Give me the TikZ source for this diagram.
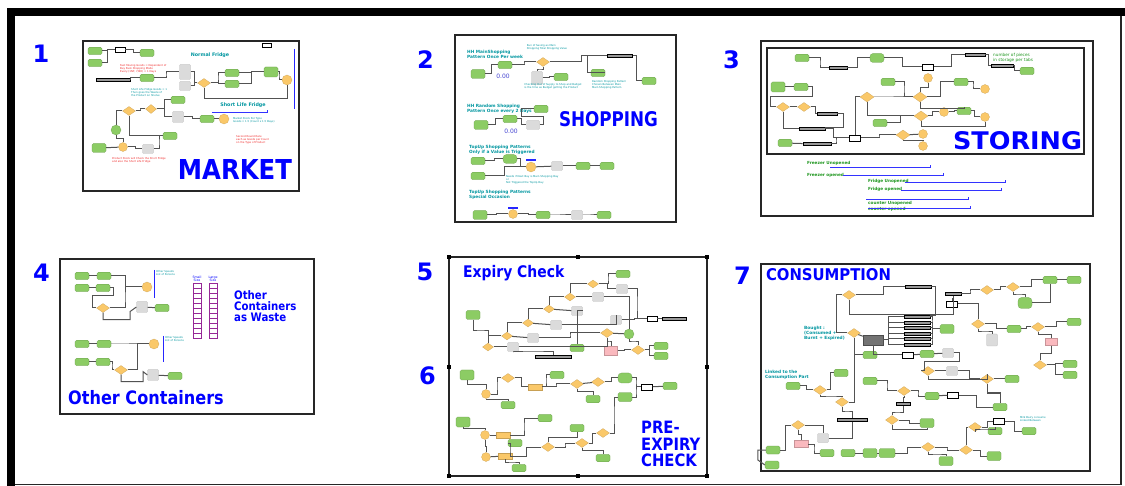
\documentclass[tikz,border=0pt]{standalone}
\usepackage{fontspec}
\setmainfont{DejaVu Sans}
\newfontfamily\tah{DejaVu Sans}[FakeStretch=0.87]
\usetikzlibrary{shapes.geometric,calc,arrows.meta}
\definecolor{grn}{RGB}{140,204,100}
\definecolor{org}{RGB}{250,200,105}
\definecolor{tl}{RGB}{0,150,160}
\definecolor{bblue}{RGB}{0,0,255}
\definecolor{pnk}{RGB}{250,185,190}
\definecolor{dgr}{RGB}{30,150,30}
\definecolor{pur}{RGB}{150,40,150}
\definecolor{rd}{RGB}{240,40,40}
\definecolor{nb}{RGB}{70,70,210}
\begin{document}
\begin{tikzpicture}[x=1pt,y=-1pt,
 ln/.style={draw=black!68, line width=1pt},
 gn/.style={rectangle, rounded corners=1.5pt, fill=grn, draw=grn!75!black, line width=0.2pt, minimum width=14pt, minimum height=7.5pt, inner sep=0pt},
 od/.style={diamond, fill=org, draw=org!80!black, line width=0.2pt, minimum width=13pt, minimum height=9pt, inner sep=0pt},
 oc/.style={circle, fill=org, draw=org!80!black, line width=0.2pt, minimum size=9pt, inner sep=0pt},
 ob/.style={rectangle, fill=org, draw=org!80!black, line width=0.2pt, minimum width=14pt, minimum height=6pt, inner sep=0pt},
 gy/.style={rectangle, rounded corners=1pt, fill=black!14, draw=black!28, line width=0.2pt, minimum width=11pt, minimum height=9pt, inner sep=0pt},
 pk/.style={rectangle, fill=pnk, draw=pnk!80!black, line width=0.2pt, minimum width=12pt, minimum height=7pt, inner sep=0pt},
 bb/.style={rectangle, fill=black!40, draw=black, line width=0.8pt, minimum width=22pt, minimum height=3pt, inner sep=0pt},
 wb/.style={rectangle, fill=white, draw=black, line width=0.5pt, minimum width=10pt, minimum height=5pt, inner sep=0pt},
 frm/.style={draw=black!85, line width=1.4pt},
 num/.style={text=bblue, font=\fontsize{24}{24}\selectfont\bfseries, inner sep=0pt},
 bigt/.style={text=bblue, inner sep=0pt},
 tlt/.style={text=tl, font=\fontsize{4.3}{4.8}\selectfont\bfseries, inner sep=0pt, align=left},
 tiny/.style={font=\fontsize{2.6}{3}\selectfont, inner sep=0pt, align=left},
 gl/.style={text=dgr, font=\fontsize{4.2}{4.6}\selectfont\bfseries, inner sep=0pt, anchor=west},
 bl/.style={draw=bblue!85, line width=0.8pt},
 blt/.style={draw=bblue!80, line width=0.7pt, -{Bar[width=3pt,line width=0.6pt]}},
 hvh/.style={to path={-| ($(\tikztostart)!.5!(\tikztotarget)$) |- (\tikztotarget)}},
 vhv/.style={to path={|- ($(\tikztostart)!.5!(\tikztotarget)$) -| (\tikztotarget)}}
]
\useasboundingbox (0,0) rectangle (1125,486);
\fill[white] (0,0) rectangle (1125,486);
% outer frame
\fill[black] (7,8) rectangle (1125,16);
\fill[black] (7,8) rectangle (15,486);
\draw[black!85, line width=1.3pt] (1121,16) -- (1121,484.5) -- (15,484.5);

% numbers
\node[num] (n1) at (41,54) {1};
\node[num] (n2) at (425.5,59.5) {2};
\node[num] (n3) at (731.5,59.5) {3};
\node[num] (n4) at (41.5,272.5) {4};
\node[num] (n5) at (425,272) {5};
\node[num] (n6) at (427.5,375.5) {6};
\node[num] (n7) at (742.5,276) {7};

%================ PANEL 1 : MARKET
\draw[frm] (83,41) rectangle (299,191);
\node[gn] (a1) at (95,51) {};
\node[gn] (a2) at (95,63) {};
\node[wb] (a3) at (120,50) {};
\node[gn] (a4) at (147,53) {};
\node[wb, minimum width=9pt, minimum height=4pt, line width=0.8pt] (a5) at (267,45) {};
\node[bb, minimum width=34pt] (a6) at (113,80) {};
\node[gn] (a7) at (147,78) {};
\node[gy, minimum height=15pt] (a8) at (185,72) {};
\node[gy] (a9) at (185,86) {};
\node[od] (a10) at (204,83) {};
\node[gn] (a11) at (232,73) {};
\node[gn] (a12) at (232,84) {};
\node[gn, minimum height=10pt] (a13) at (271,72) {};
\node[oc, minimum size=10pt] (a14) at (287,80) {};
\draw[ln] (a1) to[hvh] (a3);
\draw[ln] (a2) to[hvh] (a3);
\draw[ln] (a3) to[hvh] (a4);
\draw[ln] (a6) to[hvh] (a7);
\draw[ln] (a7) to[hvh] (a8);
\draw[ln] (a8) to[hvh] (a10);
\draw[ln] (a9) to[hvh] (a10);
\draw[ln] (a10) to[hvh] (a11);
\draw[ln] (a10) to[hvh] (a12);
\draw[ln] (a11) to[hvh] (a13);
\draw[ln] (a12) to[hvh] (a13);
\draw[ln] (a13) to[hvh] (a14);
\draw[ln] (a10.south) -- ++(0,11) -| (a14.south);
\node[gn] (a15) at (178,100) {};
\node[od] (a16) at (129,111) {};
\node[od, minimum width=11pt] (a17) at (151,109) {};
\node[gy, minimum height=11pt] (a18) at (178,117) {};
\node[gn] (a19) at (207,119) {};
\node[oc, minimum size=10pt] (a20) at (224,119) {};
\node[gn, circle, minimum size=10pt] (a21) at (116,130) {};
\node[gn] (a22) at (170,136) {};
\node[gn, minimum height=9pt] (a23) at (99,148) {};
\node[oc] (a24) at (123,147) {};
\node[gy] (a25) at (148,149) {};
\draw[ln] (a16) to[hvh] (a17);
\draw[ln] (a17) to[hvh] (a15);
\draw[ln] (a17) to[hvh] (a18);
\draw[ln] (a18) to[hvh] (a19);
\draw[ln] (a19) -- (a20);
\draw[ln] (a16.west) -| (a21.north);
\draw[ln] (a16.south) |- (a22.west);
\draw[ln] (a21) to[vhv] (a24);
\draw[ln] (a23) -- (a24);
\draw[ln] (a24) to[hvh] (a25);
\draw[ln] (a25) to[hvh] (a22);
\node[tlt, anchor=center, font=\fontsize{4.8}{5}\selectfont\bfseries] (t1) at (210,55) {Normal Fridge};
\node[tlt, anchor=center, font=\fontsize{4.8}{5}\selectfont\bfseries] (t2) at (243,105) {Short Life Fridge};
\draw[blt] (212,112) -- (268,112);
\draw[bl] (294,49) -- (294,109);
\node[tiny, text=rd, anchor=north west] (r1) at (120,64) {Fast Moving Goods = Dependent of\\Buy Pack Shopping Mode\\Every (1NF, 7/8H) = 1 Days};
\node[tiny, text=tl, anchor=north west] (r2) at (131,88) {Short Life Fridge Goods = 1\\Then goes the Waste of\\the Product on Shelve};
\node[tiny, text=tl, anchor=west] (r3) at (233,120) {Market Stock Per Type\\Goods = 1.5 (Count x 1.5 Days)};
\node[tiny, text=rd, anchor=west] (r4) at (236,140) {Second Round Rate\\each as Goods per Count\\on the Type of Product};
\node[tiny, text=rd, anchor=north west] (r5) at (112,157) {Product Stock will Check the Short Fridge\\and also the Short Life Fridge};
\node[bigt] (mk) at (235,170) {\resizebox{114pt}{20pt}{\bfseries MARKET}};

%================ PANEL 2 : SHOPPING
\draw[frm] (455,35) rectangle (676,222);
\node[tlt, anchor=west] (s1) at (467,54.5) {HH MainShopping\\Pattern Once Per week};
\node[gn, minimum height=9pt] (b1) at (478,74) {};
\node[gn] (b2) at (505,65) {};
\node[text=nb, font=\fontsize{6}{6}\selectfont, inner sep=0pt] (z1) at (503,76) {0.00};
\node[od] (b3) at (543,62) {};
\node[gy, minimum height=13pt] (b4) at (537,78) {};
\node[gn] (b5) at (561,77) {};
\node[bb, minimum width=25pt] (b6) at (620,56) {};
\node[gn] (b7) at (598,73) {};
\node[gn] (b8) at (649,81) {};
\draw[ln] (b1) to[hvh] (b2);
\draw[ln] (b2) to[hvh] (b3);
\draw[ln] (b3) to[hvh] (b6);
\draw[ln] (b6.east) -- ++(4,0) |- (b8.west);
\draw[ln] (b3) to[vhv] (b4);
\draw[ln] (b4) to[hvh] (b5);
\draw[ln] (b6.west) -| ++(-20,6) |- (b7.east);
\node[tiny, text=tl, anchor=center] (s2) at (547,47) {Run of Saving as Main\\Shopping Total Shopping Value};
\node[tiny, text=tl, anchor=center] (s3) at (553,86) {Checking Out of Supply to Shop and Budget\\is the time as Budget getting the Product};
\node[tiny, text=tl, anchor=north west] (s4) at (592,80) {Random Shopping Pattern\\Chosen Between Main\\Main Shopping Pattern};
\node[tlt, anchor=west] (s5) at (467,109) {HH Random Shopping\\Pattern Once every 2 Days};
\node[gn, minimum height=9pt] (b9) at (481,125) {};
\node[gn] (b10) at (510,119) {};
\node[gy, minimum width=13pt] (b11) at (533,125) {};
\node[gn] (b12) at (541,109) {};
\node[text=nb, font=\fontsize{6}{6}\selectfont, inner sep=0pt] (z2) at (511,131) {0.00};
\draw[ln] (b9) to[hvh] (b10);
\draw[ln] (b10) to[hvh] (b11);
\draw[ln] (b11.east) -- ++(4,0) |- ++(-22,-8) |- (b12.west);
\node[bigt] (sh) at (608.5,119.5) {\resizebox{99pt}{15pt}{\bfseries SHOPPING}};
\node[tlt, anchor=west] (s6) at (469,149.5) {TopUp Shopping Patterns\\Only if a Value is Triggered};
\node[gn] (b13) at (478,161) {};
\node[gn, rounded corners=3.5pt, minimum height=9pt] (b14) at (510,159) {};
\node[oc, minimum size=10pt] (b15) at (531,167) {};
\draw[bl, line width=1.2pt] (526,160) -- (536,160);
\node[gn] (b16) at (478,176) {};
\node[gy] (b17) at (557,166) {};
\node[gn] (b18) at (583,166) {};
\node[gn] (b19) at (607,166) {};
\draw[ln] (b13) to[hvh] (b14);
\draw[ln] (b14) to[hvh] (b15);
\draw[ln] (b16) to[hvh] (b15);
\draw[ln] (b15) -- (b17);
\draw[ln] (b17) -- (b18);
\draw[ln] (b18) -- (b19);
\node[tiny, text=tl, anchor=north west] (s7) at (506,175) {Needs if Next Buy is Main Shopping Day\\or\\Not Triggered the TopUp Day};
\node[tlt, anchor=west] (s8) at (469,194.5) {TopUp Shopping Patterns\\Special Occasion};
\node[gn, minimum height=9pt] (b20) at (480,215) {};
\node[oc, minimum size=9pt] (b21) at (513,214) {};
\draw[bl, line width=1.2pt] (508,208) -- (518,208);
\node[gn] (b22) at (543,215) {};
\node[gy] (b23) at (577,215) {};
\node[gn] (b24) at (604,215) {};
\draw[ln] (b20) to[hvh] (b21);
\draw[ln] (b21) to[hvh] (b22);
\draw[ln] (b22) to[hvh] (b23);
\draw[ln] (b23) to[hvh] (b24);

%================ PANEL 3 : STORING
\draw[frm] (761,41) rectangle (1093,216);
\draw[frm] (767,48) rectangle (1084,154);
\node[gn] (c1) at (802,58) {};
\node[bb, minimum width=18pt] (c2) at (838,68) {};
\node[gn, rounded corners=3pt, minimum height=9pt] (c3) at (877,58) {};
\node[wb, minimum width=11pt, minimum height=6pt] (c4) at (928,67) {};
\node[bb, minimum width=20pt] (c5) at (975,55) {};
\node[bb, minimum width=22pt] (c6) at (1002,66) {};
\node[gn] (c7) at (1027,71) {};
\node[text=dgr, font=\fontsize{4.2}{4.6}\selectfont, inner sep=0pt, anchor=west, align=left] (c0) at (993,58) {number of pieces\\in storage per tabs};
\node[gn, minimum height=10pt] (c8) at (778,87) {};
\node[gn] (c9) at (801,87) {};
\node[od] (c10) at (783,107) {};
\node[od] (c11) at (804,107) {};
\node[bb, minimum width=20pt] (c12) at (827,114) {};
\node[bb, minimum width=26pt] (c13) at (812,129) {};
\node[gn] (c14) at (785,143) {};
\node[bb, minimum width=28pt] (c15) at (817,144) {};
\node[wb, minimum width=11pt, minimum height=6pt] (c16) at (855,138) {};
\node[od, minimum width=14pt, minimum height=10pt] (c17) at (867,97) {};
\node[gn] (c18) at (888,82) {};
\node[gn] (c19) at (880,123) {};
\node[oc] (c20) at (928,78) {};
\node[od, minimum width=14pt, minimum height=10pt] (c21) at (920,97) {};
\node[od, minimum width=14pt, minimum height=10pt] (c22) at (921,116) {};
\node[od, minimum width=14pt, minimum height=10pt] (c23) at (903,135) {};
\node[oc] (c24) at (923,134) {};
\node[oc] (c25) at (923,146) {};
\node[oc] (c26) at (944,112) {};
\node[gn] (c27) at (961,82) {};
\node[gn] (c28) at (964,111) {};
\node[oc] (c29) at (985,89) {};
\node[oc] (c30) at (985,117) {};
\draw[ln] (c1) to[hvh] (c2);
\draw[ln] (c2) to[hvh] (c3);
\draw[ln] (c3) to[hvh] (c4);
\draw[ln] (c4) to[hvh] (c5);
\draw[ln] (c5) to[hvh] (c6);
\draw[ln] (c6) to[hvh] (c7);
\draw[ln] (c8) -- (c9);
\draw[ln] (c9.east) -- ++(4,0) |- (770,97) |- (c10.west);
\draw[ln] (c10) -- (c11);
\draw[ln] (c11) to[hvh] (c12);
\draw[ln] (c12.east) -- ++(6,0) |- (c13.north east);
\draw[ln] (c10.south) |- (c13.west);
\draw[ln] (c13) to[hvh] (c16);
\draw[ln] (c14) -- (c15);
\draw[ln] (c15) to[hvh] (c16);
\draw[ln] (c16) to[hvh] (c23);
\draw[ln] (c17.west) -| (c16.north);
\draw[ln] (c17) to[hvh] (c21);
\draw[ln] (c18) to[hvh] (c21);
\draw[ln] (c17.south) |- (c22.west);
\draw[ln] (c19) to[hvh] (c22);
\draw[ln] (c21) to[vhv] (c20);
\draw[ln] (c21) to[hvh] (c27);
\draw[ln] (c22) to[hvh] (c26);
\draw[ln] (c26) to[hvh] (c28);
\draw[ln] (c27) to[hvh] (c29);
\draw[ln] (c28) to[hvh] (c30);
\draw[ln] (c21.south) -- ++(0,6) -| (c28.north);
\draw[ln] (c22.south) -- ++(0,5) -| (c30.south);
\draw[ln] (c23) -- (c24);
\draw[ln] (c23) to[vhv] (c25);
\node[bigt] (st) at (1017.5,141) {\resizebox{129pt}{18pt}{\bfseries STORING}};
\node[gl] (l1) at (807,163) {Freezer Unopened};
\draw[blt] (830,167) -- (931,167);
\node[gl] (l2) at (807,175) {Freezer opened};
\draw[blt] (843,175) -- (944,175);
\node[gl] (l3) at (868,181) {Fridge Unopened};
\draw[blt] (905,182) -- (1006,182);
\node[gl] (l4) at (868,189) {Fridge opened};
\draw[blt] (901,190) -- (1002,190);
\node[gl] (l5) at (868,203) {counter Unopened};
\draw[blt] (866,199) -- (969,199);
\node[gl] (l6) at (868,209) {counter opened};
\draw[blt] (868,208) -- (971,208);

%================ PANEL 4 : OTHER CONTAINERS
\draw[frm] (60,259) rectangle (314,414);
\node[gn] (d1) at (82,276) {};
\node[gn] (d2) at (104,276) {};
\node[gn] (d3) at (82,288) {};
\node[gn] (d4) at (103,288) {};
\node[oc, minimum size=10pt] (d5) at (147,287) {};
\node[od] (d6) at (103,308) {};
\node[gy, minimum height=11pt] (d7) at (142,307) {};
\node[gn] (d8) at (162,308) {};
\draw[ln] (d1) -- (d2);
\draw[ln] (d2) to[hvh] (d5);
\draw[ln] (d3) -- (d4);
\draw[ln] (d4.east) -- ++(3,0) -- ++(0,8) -| ($(d6.west)+(-4,0)$) -- (d6.west);
\draw[ln] (d6) to[hvh] (d5);
\draw[ln] (d6.south) -- ++(0,7) -| ++(27,-8) -- (d7.west);
\draw[ln] (d7) -- (d8);
\draw[bl] (154,270) -- (154,298);
\node[tiny, text=tl, anchor=west] (d0) at (156,273) {Other Speeds\\List of Persons};
\node[gn] (d9) at (82,344) {};
\node[gn] (d10) at (104,344) {};
\node[oc, minimum size=10pt] (d11) at (154,344) {};
\node[gn] (d12) at (82,362) {};
\node[gn] (d13) at (103,362) {};
\node[od] (d14) at (121,370) {};
\node[gy, minimum height=11pt] (d15) at (153,375) {};
\node[gn] (d16) at (175,376) {};
\draw[ln] (d9) -- (d10);
\draw[ln] (d10) to[hvh] (d11);
\draw[ln] (d12) -- (d13);
\draw[ln] (d13) to[hvh] (d14);
\draw[ln] (d14) to[hvh] (d11);
\draw[ln] (d14.south) -- ++(0,7) -| ++(22,-10) -- (d15.west);
\draw[ln] (d15) -- (d16);
\draw[bl] (163,336) -- (163,362);
\node[tiny, text=tl, anchor=west] (d00) at (165,339) {Other Speeds\\List of Persons};
\node[text=bblue, font=\fontsize{3.2}{3.5}\selectfont, inner sep=0pt, align=center] (ss) at (197,279) {Small\\Size};
\node[text=bblue, font=\fontsize{3.2}{3.5}\selectfont, inner sep=0pt, align=center] (ls) at (213,279) {Large\\Size};
\foreach \k in {0,...,10} {
  \draw[pur, line width=0.7pt] (193,283+5*\k) rectangle (201,288+5*\k);
  \draw[pur, line width=0.7pt] (209,283+5*\k) rectangle (217,288+5*\k);
}
\node[bigt, anchor=base west, font=\tah\fontsize{11.7}{11.7}\selectfont\bfseries] (w1) at (234,300) {Other};
\node[bigt, anchor=base west, font=\tah\fontsize{11.7}{11.7}\selectfont\bfseries] (w2) at (234,311) {Containers};
\node[bigt, anchor=base west, font=\tah\fontsize{11.7}{11.7}\selectfont\bfseries] (w3) at (234,322) {as Waste};
\node[bigt, anchor=base west, font=\tah\fontsize{18.5}{18.5}\selectfont\bfseries] (oc) at (68,404) {Other Containers};

%================ PANEL 5/6 : EXPIRY CHECK
\draw[black!85, line width=1.2pt] (449,257) rectangle (707,476);
\foreach \p in {(449,257),(578,257),(707,257),(449,367),(707,367),(449,476),(578,476),(707,476)}
  \fill[black] \p +(-1.6,-1.6) rectangle +(1.6,1.6);
\node[bigt, anchor=base west, font=\tah\fontsize{16}{16}\selectfont\bfseries] (ex) at (463,277.5) {Expiry Check};
\node[gn, minimum height=9pt] (e1) at (473,315) {};
\node[od, minimum width=11pt, minimum height=8pt] (e2) at (488,347) {};
\node[od, minimum width=11pt, minimum height=8pt] (e3) at (507,336) {};
\node[od, minimum width=11pt, minimum height=8pt] (e4) at (528,323) {};
\node[od, minimum width=11pt, minimum height=8pt] (e5) at (549,309) {};
\node[od, minimum width=11pt, minimum height=8pt] (e6) at (570,297) {};
\node[od, minimum width=11pt, minimum height=8pt] (e7) at (593,284) {};
\node[gy] (e8) at (513,347) {};
\node[gy] (e9) at (533,338) {};
\node[gy] (e10) at (556,325) {};
\node[gy] (e11) at (577,311) {};
\node[gy] (e12) at (598,297) {};
\node[gy] (e13) at (622,289) {};
\node[gn] (e14) at (623,274) {};
\node[gy] (e15) at (616,320) {};
\node[od, minimum width=13pt, minimum height=9pt] (e16) at (607,333) {};
\node[gn, circle, minimum size=10pt] (e17) at (629,334) {};
\node[wb] (e18) at (652,319) {};
\node[bb, minimum width=24pt] (e19) at (674,319) {};
\node[pk, minimum width=13pt, minimum height=9pt] (e20) at (611,351) {};
\node[od] (e21) at (638,350) {};
\node[gn] (e22) at (661,346) {};
\node[gn] (e23) at (661,356) {};
\node[gn] (e24) at (577,348) {};
\node[bb, minimum width=36pt] (e25) at (553,357) {};
\draw[ln] (e1) to[vhv] (e2);
\draw[ln] (e2) -- (e8);
\draw[ln] (e3) -- (e9);
\draw[ln] (e4) -- (e10);
\draw[ln] (e5) -- (e11);
\draw[ln] (e6) -- (e12);
\draw[ln] (e7) to[hvh] (e13);
\draw[ln] (e7) to[hvh] (e14);
\draw[ln] (e2.north) |- (e3.west);
\draw[ln] (e3.north) |- (e4.west);
\draw[ln] (e4.north) |- (e5.west);
\draw[ln] (e5.north) |- (e6.west);
\draw[ln] (e6.north) |- (e7.west);
\draw[ln] (e8.east) -| (e16.south);
\draw[ln] (e9) to[hvh] (e16);
\draw[ln] (e10.east) -| (e15.north);
\draw[ln] (e11.east) -| (e24.north);
\draw[ln] (e12.east) -| (e17.north);
\draw[ln] (e13) to[hvh] (e18);
\draw[ln] (e15) to[hvh] (e18);
\draw[ln] (e18) -- (e19);
\draw[ln] (e16) -- (e17);
\draw[ln] (e16) to[vhv] (e20);
\draw[ln] (e20) to[hvh] (e21);
\draw[ln] (e21) to[hvh] (e22);
\draw[ln] (e21) to[hvh] (e23);
\draw[ln] (e17) to[vhv] (e21);
\draw[ln] (e8) to[vhv] (e25);
% panel 6
\node[gn, minimum height=10pt] (f1) at (467,375) {};
\node[oc] (f2) at (486,394) {};
\node[od] (f3) at (508,378) {};
\node[ob] (f4) at (535,387) {};
\node[gn] (f5) at (557,375) {};
\node[gn] (f6) at (508,405) {};
\node[od] (f7) at (577,384) {};
\node[od] (f8) at (598,382) {};
\node[gn] (f9) at (593,399) {};
\node[gn, rounded corners=3.5pt, minimum height=10pt] (f10) at (625,378) {};
\node[gn, minimum height=9pt] (f11) at (625,397) {};
\node[wb, minimum width=11pt, minimum height=6pt] (f12) at (647,387) {};
\node[gn] (f13) at (670,386) {};
\draw[ln] (f1) to[vhv] (f2);
\draw[ln] (f2) to[hvh] (f3);
\draw[ln] (f3) to[hvh] (f4);
\draw[ln] (f4) to[hvh] (f5);
\draw[ln] (f4) to[hvh] (f7);
\draw[ln] (f7) -- (f8);
\draw[ln] (f8) to[hvh] (f10);
\draw[ln] (f10) to[hvh] (f12);
\draw[ln] (f11) to[hvh] (f12);
\draw[ln] (f12) -- (f13);
\draw[ln] (f7) to[vhv] (f9);
\draw[ln] (f2) to[vhv] (f6);
\node[gn, minimum height=10pt] (f14) at (463,422) {};
\node[oc] (f15) at (485,435) {};
\node[ob] (f16) at (503,435) {};
\node[gn] (f17) at (545,418) {};
\node[oc] (f18) at (486,457) {};
\node[ob] (f19) at (505,456) {};
\node[gn] (f20) at (515,443) {};
\node[gn] (f21) at (519,468) {};
\node[od] (f22) at (548,447) {};
\node[od] (f23) at (582,443) {};
\node[od] (f24) at (603,433) {};
\node[gn] (f25) at (577,428) {};
\node[gn] (f26) at (603,458) {};
\draw[ln] (f14) to[vhv] (f15);
\draw[ln] (f15) -- (f16);
\draw[ln] (f16) to[hvh] (f17);
\draw[ln] (f15) to[vhv] (f18);
\draw[ln] (f18) -- (f19);
\draw[ln] (f19) to[hvh] (f20);
\draw[ln] (f19) to[vhv] (f21);
\draw[ln] (f19) to[hvh] (f22);
\draw[ln] (f22) to[hvh] (f23);
\draw[ln] (f23) to[hvh] (f24);
\draw[ln] (f24) to[hvh] (f11);
\draw[ln] (f22) to[vhv] (f25);
\draw[ln] (f23) to[vhv] (f26);
\node[bigt, anchor=base west, font=\tah\fontsize{17}{17}\selectfont\bfseries] (p1) at (641,433) {PRE-};
\node[bigt, anchor=base west, font=\tah\fontsize{17}{17}\selectfont\bfseries] (p2) at (641,450) {EXPIRY};
\node[bigt, anchor=base west, font=\tah\fontsize{17}{17}\selectfont\bfseries] (p3) at (641,466) {CHECK};

%================ PANEL 7 : CONSUMPTION
\draw[frm] (761,264) rectangle (1090,471);
\node[bigt] (cn) at (828.5,275) {\resizebox{125pt}{12pt}{\bfseries CONSUMPTION}};
\node[od] (g1) at (849,295) {};
\node[bb, minimum width=26pt] (g2) at (918,287) {};
\node[bb, minimum width=16pt] (g3) at (953,294) {};
\node[od] (g4) at (987,290) {};
\node[od] (g5) at (1013,287) {};
\node[gn] (g6) at (1050,280) {};
\node[gn] (g7) at (1074,280) {};
\node[gn, rounded corners=3.5pt, minimum height=11pt] (g8) at (1025,303) {};
\node[wb, minimum width=11pt, minimum height=6pt] (g9) at (952,304) {};
\node[bb, minimum width=26pt] (g10) at (917,317) {};
\node[bb, minimum width=26pt] (g11) at (917,322.5) {};
\node[bb, minimum width=26pt] (g12) at (917,328) {};
\node[bb, minimum width=26pt] (g13) at (917,333.5) {};
\node[bb, minimum width=26pt] (g14) at (917,339) {};
\node[bb, minimum width=26pt] (g15) at (917,344.5) {};
\node[od] (g16) at (854,333) {};
\node[rectangle, fill=black!55, draw=black!70, minimum width=20pt, minimum height=10pt, inner sep=0pt] (g17) at (873,340) {};
\node[gn, minimum height=9pt] (g18) at (947,329) {};
\node[od] (g19) at (978,324) {};
\node[gn] (g20) at (1014,329) {};
\node[od] (g21) at (1038,327) {};
\node[gn] (g22) at (1074,322) {};
\node[gy, minimum height=12pt] (g23) at (992,340) {};
\node[pk] (g24) at (1051,342) {};
\node[gn] (g25) at (870,355) {};
\node[wb, minimum width=11pt, minimum height=6pt] (g26) at (908,355) {};
\node[gn] (g27) at (927,354) {};
\node[gy] (g28) at (948,353) {};
\node[od] (g29) at (928,371) {};
\node[gy] (g30) at (952,371) {};
\node[od] (g31) at (987,379) {};
\node[gn] (g32) at (1012,379) {};
\node[od] (g33) at (1040,365) {};
\node[gn] (g34) at (1070,364) {};
\node[gn] (g35) at (1070,375) {};
\node[tlt, anchor=west] (bt) at (804,333.5) {Bought :\\(Consumed +\\Burnt + Expired)};
\node[tlt, anchor=west] (lk) at (765,375) {Linked to the\\Consumption Part};
\node[gn] (g36) at (793,386) {};
\node[od] (g37) at (820,390) {};
\node[gn] (g38) at (841,373) {};
\node[od] (g39) at (842,402) {};
\node[gn] (g40) at (870,381) {};
\node[od] (g41) at (904,391) {};
\node[gn] (g42) at (932,396) {};
\node[wb, minimum width=11pt, minimum height=6pt] (g43) at (953,395) {};
\node[gn] (g44) at (1000,407) {};
\node[bb, minimum width=14pt] (g45) at (903,404) {};
\node[bb, minimum width=30pt] (g46) at (852,420) {};
\node[od] (g47) at (798,425) {};
\node[pk, minimum width=14pt] (g48) at (801,444) {};
\node[gy] (g49) at (823,438) {};
\node[gn, minimum height=8pt] (g50) at (773,450) {};
\node[gn, minimum height=8pt] (g51) at (772,465) {};
\node[gn] (g52) at (827,453) {};
\node[gn] (g53) at (848,453) {};
\node[gn, minimum height=9pt] (g54) at (870,453) {};
\node[gn, minimum width=16pt, minimum height=9pt] (g55) at (887,453) {};
\node[od] (g56) at (892,420) {};
\node[gn, minimum height=9pt] (g57) at (927,423) {};
\node[od] (g58) at (928,447) {};
\node[gn, minimum height=9pt] (g59) at (946,461) {};
\node[od] (g60) at (975,427) {};
\node[wb, minimum width=11pt, minimum height=6pt] (g61) at (999,421) {};
\node[gn] (g62) at (995,431) {};
\node[gn] (g63) at (1029,431) {};
\node[od] (g64) at (966,450) {};
\node[gn, minimum height=9pt] (g65) at (994,456) {};
\node[tiny, text=tl, anchor=west] (mk2) at (1020,419) {Milk Dairy consume\\Linked Between};
\draw[ln] (g1) to[hvh] (g2);
\draw[ln] (g2.east) -- ++(4,0) |- (g10.north east);
\draw[ln] (g3) to[hvh] (g4);
\draw[ln] (g4) to[hvh] (g5);
\draw[ln] (g5) to[hvh] (g6);
\draw[ln] (g6) -- (g7);
\draw[ln] (g5) to[vhv] (g8);
\draw[ln] (g8.east) -| (g6.south);
\draw[ln] (g3) to[vhv] (g9);
\draw[ln] (g9.east) -| (g19.north);
\draw[ln] (g1.west) -- ++(-6,0) |- (g16.west);
\draw[ln] (g1.south) -- ++(0,15) -| (g3.south);
\draw[ln] (g16) -- (g17);
\foreach \n in {g10,g11,g12,g13,g14,g15} {
  \draw[ln] (g17.east) -- ++(5,0) |- (\n.west);
  \draw[ln] (\n) to[hvh] (g18);
}
\draw[ln] (g19) to[hvh] (g20);
\draw[ln] (g20) to[hvh] (g21);
\draw[ln] (g21) to[hvh] (g22);
\draw[ln] (g19) to[vhv] (g23);
\draw[ln] (g21) to[vhv] (g24);
\draw[ln] (g24) to[vhv] (g33);
\draw[ln] (g33) to[hvh] (g34);
\draw[ln] (g33) to[hvh] (g35);
\draw[ln] (g16.south) |- (g25.west);
\draw[ln] (g17.south) |- (g26.west);
\draw[ln] (g26) -- (g27);
\draw[ln] (g27) -- (g28);
\draw[ln] (g28.east) -- ++(6,0) |- ++(-35,9) |- (g29.west);
\draw[ln] (g29) -- (g30);
\draw[ln] (g30) to[hvh] (g31);
\draw[ln] (g31) -- (g32);
\draw[ln] (g31) to[vhv] (g44);
\draw[ln] (g29.south) -- ++(0,4) -| (g31.north);
\draw[ln] (g36) to[hvh] (g37);
\draw[ln] (g37) to[hvh] (g38);
\draw[ln] (g37) to[vhv] (g39);
\draw[ln] (g39.east) -| (g16.south);
\draw[ln] (g39) to[vhv] (g46);
\draw[ln] (g40) to[hvh] (g41);
\draw[ln] (g41) to[hvh] (g42);
\draw[ln] (g42) -- (g43);
\draw[ln] (g43) to[hvh] (g44);
\draw[ln] (g41) to[vhv] (g45);
\draw[ln] (g45) to[vhv] (g56);
\draw[ln] (g56) to[hvh] (g57);
\draw[ln] (g56.south) -- ++(0,5) -| (g57.south);
\draw[ln] (g47) to[vhv] (g48);
\draw[ln] (g47.east) -| (g49.north);
\draw[ln] (g48) to[hvh] (g52);
\draw[ln] (g50) to[hvh] (g47);
\draw[ln] (g50.west) -| ++(-8,10) -- (g51.west);
\draw[ln] (g49.east) -| (g46.south);
\draw[ln] (g53) -- (g54);
\draw[ln] (g54) -- (g55);
\draw[ln] (g55) to[hvh] (g58);
\draw[ln] (g58) to[vhv] (g59);
\draw[ln] (g58) to[hvh] (g64);
\draw[ln] (g64) to[hvh] (g65);
\draw[ln] (g64.north) |- (g60.west);
\draw[ln] (g60) to[hvh] (g61);
\draw[ln] (g60) to[vhv] (g62);
\draw[ln] (g61) to[hvh] (g63);
\end{tikzpicture}
\end{document}
